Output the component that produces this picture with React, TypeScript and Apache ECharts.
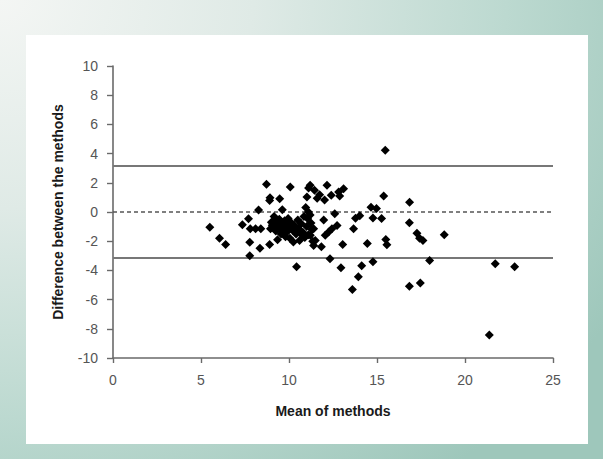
import React, { useEffect, useRef } from "react";
import * as echarts from "echarts";

// Bland-Altman data: mean of methods (x) and difference between methods (y)
const meanOfMethods: number[] = [
  5.5, 6.05, 6.4, 7.35, 7.7, 7.8, 7.77, 7.77, 8.27, 8.1, 8.4, 8.35, 8.72, 8.92, 8.9, 8.9, 9.47, 9.62, 10.07, 10.43,
  9.0, 9.1, 9.2, 9.25, 9.3, 9.35, 9.45, 9.5, 9.55, 9.6, 9.7, 9.75, 9.8, 9.85, 9.9, 9.95, 10.0, 10.05, 10.1, 10.2,
  10.25, 10.3, 10.4, 10.5, 10.55, 10.6, 10.7, 10.8, 10.85, 10.9, 11.0, 11.05, 11.1, 11.2, 11.25, 11.3, 11.35, 10.95, 11.1, 9.15,
  8.95, 9.4, 9.65, 10.15, 10.35, 10.65, 10.75, 9.05,
  11.11, 11.2, 11.45, 11.74, 12.16, 12.4, 12.82, 13.1, 12.02, 11.02, 11.6, 12.88,
  11.97, 12.6, 12.73, 12.44, 12.25, 12.06, 11.49, 11.21, 11.4, 11.4, 11.84, 13.05, 12.33, 12.95, 13.6, 13.94, 14.13, 13.67,
  13.78, 14.02, 14.45, 14.66, 14.97, 14.77, 15.26, 14.77, 15.38, 15.47, 15.5, 15.56,
  16.85, 16.84, 17.27, 17.42, 17.61, 17.99, 18.82, 16.84, 17.46, 21.38, 21.72, 22.82,
];
const differenceValues: number[] = [
  -1.05, -1.8, -2.22, -0.87, -0.47, -1.15, -2.07, -3.0, 0.13, -1.15, -1.15, -2.48, 1.9, 0.98, 0.78, -2.22, 0.9, 0.15, 1.72, -3.75,
  -0.7, -1.0, -0.6, -1.3, -0.85, -1.9, -0.5, -1.1, -1.5, -0.8, -1.2, -0.6, -1.7, -0.95, -1.35, -0.45, -1.05, -1.8, -0.7, -1.25,
  -2.05, -0.9, -1.5, -0.55, -1.15, -1.95, -0.8, -1.4, -0.3, -1.75, -1.0, -0.45, -1.55, -0.2, -0.75, -1.2, -2.0, 0.3, 0.0, -0.3,
  -1.15, -1.0, -1.4, -0.95, -1.1, -1.3, -1.6, -0.9,
  1.65, 1.83, 1.49, 1.19, 1.83, 1.14, 1.37, 1.6, 0.82, 1.03, 0.95, 1.1,
  -0.55, -0.12, -0.92, -1.15, -1.37, -1.6, -1.95, -1.6, -1.15, -2.3, -2.38, -2.22, -3.2, -3.82, -5.3, -4.43, -3.68, -1.15,
  -0.42, -0.25, -2.15, 0.33, 0.24, -0.41, -0.45, -3.41, 1.1, 4.23, -1.88, -2.25,
  0.67, -0.74, -1.45, -1.79, -1.95, -3.33, -1.56, -5.09, -4.87, -8.43, -3.55, -3.75,
];

const upperLimit = 3.2;
const meanDifference = 0;
const lowerLimit = -3.1;

const xTicks = { min: 0, max: 25, interval: 5 };
const yTicks = { min: -10, max: 10, interval: 2 };

const xTitle = "Mean of methods";
const yTitle = "Difference between the methods";

export default function App() {
  const ref = useRef<HTMLDivElement>(null);

  useEffect(() => {
    document.body.style.margin = "0";
    if (!ref.current) return;
    const chart = echarts.init(ref.current, null, { renderer: "svg" });
    const points = meanOfMethods.map((m, i) => [m, differenceValues[i]]);
    const axisColor = "#6a6a6a";
    const labelFont = "'Liberation Sans Narrow', 'Arial Narrow', 'Liberation Sans', Arial, sans-serif";
    chart.setOption({
      animation: false,
      backgroundColor: "transparent",
      grid: { left: 113, right: 50, top: 66, bottom: 101, containLabel: false },
      xAxis: {
        type: "value",
        min: xTicks.min,
        max: xTicks.max,
        interval: xTicks.interval,
        name: xTitle,
        nameLocation: "middle",
        nameGap: 46,
        nameTextStyle: { color: "#1a1a1a", fontSize: 14, fontWeight: "bold", fontFamily: "'Liberation Sans', Arial, sans-serif" },
        axisLine: { show: true, onZero: false, lineStyle: { color: axisColor, width: 1.6 } },
        axisTick: { show: true, length: 5, lineStyle: { color: axisColor, width: 1.4 } },
        splitLine: { show: false },
        axisLabel: { color: "#555", fontSize: 14, margin: 15, fontFamily: labelFont },
      },
      yAxis: {
        type: "value",
        min: yTicks.min,
        max: yTicks.max,
        interval: yTicks.interval,
        name: yTitle,
        nameLocation: "middle",
        nameGap: 48,
        nameRotate: 90,
        nameTextStyle: { color: "#1a1a1a", fontSize: 14, fontWeight: "bold", fontFamily: "'Liberation Sans', Arial, sans-serif" },
        axisLine: { show: true, onZero: false, lineStyle: { color: axisColor, width: 1.6 } },
        axisTick: { show: true, length: 6, lineStyle: { color: axisColor, width: 1.4 } },
        splitLine: { show: false },
        axisLabel: { color: "#555", fontSize: 14, margin: 15, fontFamily: labelFont },
      },
      series: [
        {
          type: "scatter",
          data: points,
          symbol: "diamond",
          symbolSize: 9,
          itemStyle: { color: "#000", opacity: 1 },
          z: 3,
          markLine: {
            silent: true,
            symbol: ["none", "none"],
            label: { show: false },
            z: 2,
            data: [
              { yAxis: upperLimit, lineStyle: { color: "#777", width: 2, type: "solid" } },
              { yAxis: lowerLimit, lineStyle: { color: "#777", width: 2, type: "solid" } },
              { yAxis: meanDifference, lineStyle: { color: "#555", width: 1.5, type: [4, 3] } },
            ],
          },
        },
      ],
    });
    return () => chart.dispose();
  }, []);

  return (
    <div
      style={{
        position: "absolute",
        left: 0,
        top: 0,
        width: 603,
        height: 459,
        overflow: "hidden",
        background:
          "radial-gradient(ellipse 120% 130% at 0% 0%, #f4f6f4 0%, #dfeae6 35%, #bcd9d0 70%, #9ec7bb 100%)",
      }}
    >
      <div style={{ position: "absolute", left: 26, top: 35, width: 562, height: 409, background: "#ffffff" }} />
      <div ref={ref} style={{ position: "absolute", left: 0, top: 0, width: 603, height: 459 }} />
    </div>
  );
}
